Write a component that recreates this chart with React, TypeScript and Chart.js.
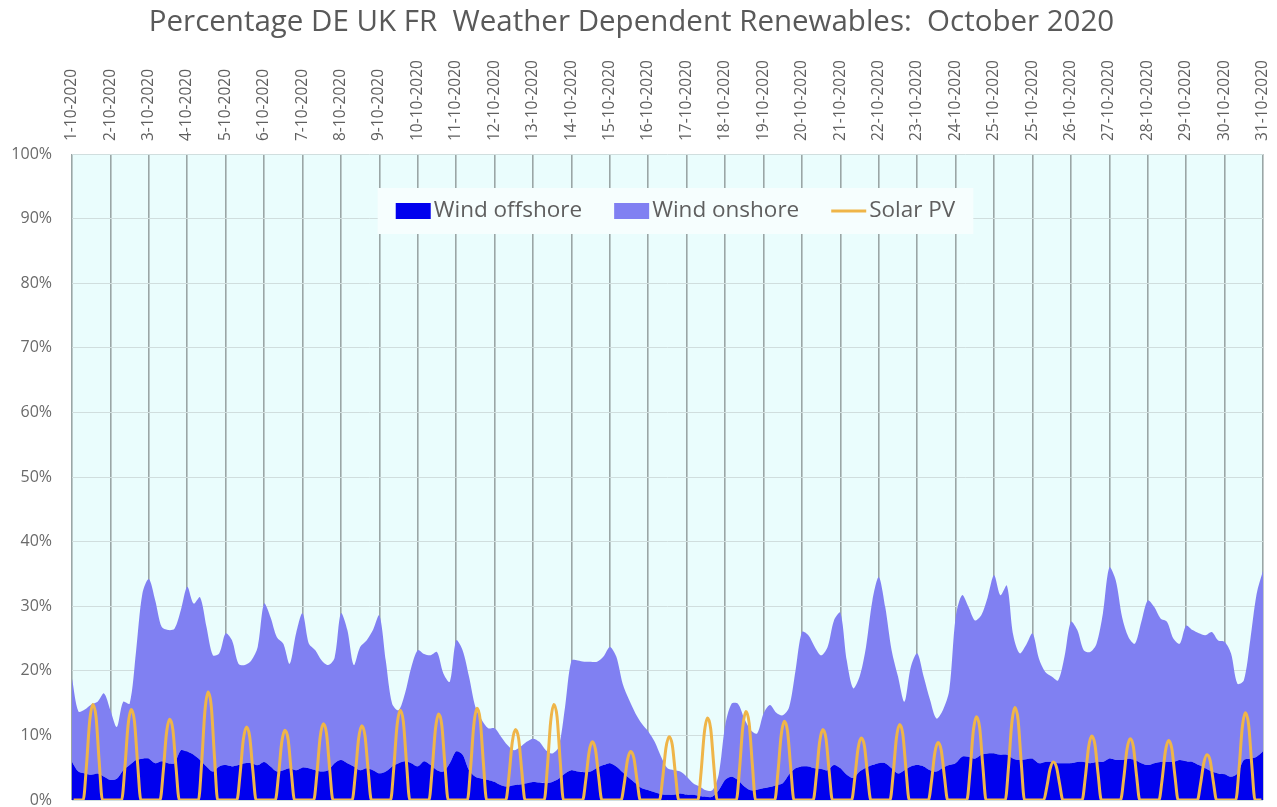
import React, { useEffect, useRef } from 'react';
import { Chart, registerables } from 'chart.js';

Chart.register(...registerables);

const TITLE = 'Percentage DE UK FR  Weather Dependent Renewables:  October 2020';

// Day boundary labels (every 24 hourly points; 25-10 repeats because of the DST change)
const dayLabels = [
  '1-10-2020', '2-10-2020', '3-10-2020', '4-10-2020', '5-10-2020', '6-10-2020', '7-10-2020', '8-10-2020',
  '9-10-2020', '10-10-2020', '11-10-2020', '12-10-2020', '13-10-2020', '14-10-2020', '15-10-2020', '16-10-2020',
  '17-10-2020', '18-10-2020', '19-10-2020', '20-10-2020', '21-10-2020', '22-10-2020', '23-10-2020', '24-10-2020',
  '25-10-2020', '25-10-2020', '26-10-2020', '27-10-2020', '28-10-2020', '29-10-2020', '30-10-2020', '31-10-2020',
];

const HOURS_PER_LABEL = 24;
const WIND_STEP_HOURS = 4;
const SOLAR_STEP_HOURS = 2;
const SOLAR_FIRST_HOUR = 1;

// Wind offshore share (%), one value every 4 hours, one row per day
const windOffshore = [
  5.9, 4.4, 4.1, 3.9, 4.1, 3.6,
  3.1, 3.3, 4.6, 5.4, 6.2, 6.4,
  6.4, 5.7, 6.0, 5.7, 5.7, 7.7,
  7.5, 7.0, 6.2, 5.2, 4.4, 5.2,
  5.4, 5.2, 5.4, 5.7, 5.7, 5.4,
  5.9, 5.2, 4.4, 4.6, 4.9, 4.6,
  5.0, 4.9, 4.6, 4.4, 4.6, 5.7,
  6.2, 5.7, 5.2, 4.6, 4.9, 4.6,
  4.1, 4.4, 5.2, 5.7, 6.0, 5.7,
  5.2, 6.0, 5.4, 4.6, 4.4, 5.7,
  7.5, 7.0, 4.6, 3.6, 3.3, 3.1,
  2.8, 2.3, 2.1, 2.3, 2.4, 2.6,
  2.8, 2.7, 2.6, 2.8, 3.3, 4.1,
  4.6, 4.4, 4.3, 4.4, 5.0, 5.4,
  5.7, 5.2, 4.3, 3.4, 2.6, 1.8,
  1.5, 1.2, 0.9, 0.8, 0.8, 1.0,
  0.8, 0.8, 0.6, 0.5, 0.5, 1.5,
  3.1, 3.6, 3.1, 2.1, 1.5, 1.6,
  1.8, 2.0, 2.3, 2.6, 4.0, 4.9,
  5.2, 5.2, 4.9, 4.8, 4.6, 5.4,
  4.9, 3.9, 3.4, 4.4, 5.0, 5.4,
  5.7, 5.7, 4.9, 4.1, 4.6, 5.2,
  5.4, 5.2, 4.6, 4.4, 5.0, 5.4,
  5.7, 6.7, 6.7, 6.4, 7.0, 7.2,
  7.2, 7.0, 7.0, 6.4, 6.2, 6.3,
  6.4, 5.7, 5.9, 5.9, 5.7, 5.7,
  5.7, 5.9, 5.9, 5.7, 5.9, 5.9,
  6.4, 6.2, 6.2, 6.4, 6.2, 5.7,
  5.4, 5.7, 5.9, 5.9, 5.9, 6.2,
  6.0, 5.9, 5.4, 4.9, 4.4, 4.1,
  4.0, 3.6, 4.1, 6.2, 6.4, 6.7,
  7.5,
];

// Wind onshore share (%), one value every 4 hours, one row per day
const windOnshore = [
  12.9, 9.3, 9.9, 10.9, 11.1, 12.9,
  10.8, 8.0, 10.6, 9.5, 16.8, 25.6,
  27.8, 25.2, 20.8, 20.6, 20.8, 21.7,
  25.5, 23.4, 25.2, 21.6, 18.0, 17.5,
  20.4, 19.5, 15.7, 15.2, 15.9, 18.3,
  24.5, 23.1, 20.8, 19.6, 16.2, 21.2,
  23.9, 19.3, 18.6, 17.2, 16.3, 16.3,
  22.7, 20.6, 15.7, 19.1, 19.8, 21.7,
  24.5, 17.2, 9.7, 8.2, 10.5, 14.9,
  18.0, 16.6, 17.0, 18.3, 15.2, 12.6,
  17.2, 16.2, 14.5, 10.8, 9.1, 8.0,
  8.3, 7.5, 6.4, 5.4, 5.8, 6.4,
  6.7, 6.3, 5.1, 4.4, 4.9, 10.3,
  17.0, 17.2, 17.1, 17.0, 16.4, 16.8,
  18.0, 17.0, 13.7, 12.1, 10.8, 10.0,
  9.1, 7.8, 5.8, 4.1, 3.8, 3.4,
  2.8, 1.8, 1.5, 1.0, 1.0, 2.5,
  8.4, 11.3, 11.8, 10.5, 9.3, 8.7,
  11.6, 12.7, 11.2, 10.5, 10.4, 15.2,
  20.8, 20.3, 18.8, 17.6, 19.1, 22.4,
  24.1, 17.7, 13.9, 14.7, 18.7, 25.5,
  28.8, 24.2, 18.3, 15.0, 10.6, 15.4,
  17.3, 13.9, 10.9, 8.2, 8.9, 11.6,
  22.6, 25.0, 23.2, 21.4, 21.6, 24.2,
  27.6, 24.7, 26.2, 19.1, 16.5, 17.7,
  19.4, 16.2, 13.9, 13.2, 12.8, 16.5,
  21.9, 20.4, 17.3, 17.2, 18.3, 23.0,
  29.6, 27.8, 22.1, 18.8, 18.0, 21.9,
  25.5, 24.2, 22.2, 21.7, 19.1, 18.0,
  21.0, 20.4, 20.4, 20.6, 21.6, 20.6,
  20.5, 19.1, 13.9, 12.3, 18.3, 25.2,
  28.0,
];

// Solar PV share (%), one value every 2 hours at 01h, 03h ... 23h, one row per day
const solarPV = [
  0, 0, 0, 0, 5.2, 12.1, 14.8, 12.9, 5.9, 0, 0, 0,
  0, 0, 0, 0, 4.9, 11.5, 14.0, 12.2, 5.6, 0, 0, 0,
  0, 0, 0, 0, 4.4, 10.3, 12.5, 10.9, 5.0, 0, 0, 0,
  0, 0, 0, 0, 5.8, 13.7, 16.7, 14.5, 6.7, 0, 0, 0,
  0, 0, 0, 0, 4.0, 9.3, 11.3, 9.8, 4.5, 0, 0, 0,
  0, 0, 0, 0, 3.8, 8.9, 10.8, 9.4, 4.3, 0, 0, 0,
  0, 0, 0, 0, 4.1, 9.7, 11.8, 10.3, 4.7, 0, 0, 0,
  0, 0, 0, 0, 4.0, 9.4, 11.5, 10.0, 4.6, 0, 0, 0,
  0, 0, 0, 0, 4.9, 11.4, 13.9, 12.1, 5.6, 0, 0, 0,
  0, 0, 0, 0, 4.7, 10.9, 13.3, 11.6, 5.3, 0, 0, 0,
  0, 0, 0, 0, 5.0, 11.6, 14.2, 12.4, 5.7, 0, 0, 0,
  0, 0, 0, 0, 3.8, 8.9, 10.9, 9.5, 4.4, 0, 0, 0,
  0, 0, 0, 0, 5.2, 12.1, 14.8, 12.9, 5.9, 0, 0, 0,
  0, 0, 0, 0, 3.2, 7.4, 9.0, 7.8, 3.6, 0, 0, 0,
  0, 0, 0, 0, 2.6, 6.2, 7.5, 6.5, 3.0, 0, 0, 0,
  0, 0, 0, 0, 3.4, 8.0, 9.8, 8.5, 3.9, 0, 0, 0,
  0, 0, 0, 0, 4.4, 10.4, 12.7, 11.0, 5.1, 0, 0, 0,
  0, 0, 0, 0, 4.8, 11.2, 13.7, 11.9, 5.5, 0, 0, 0,
  0, 0, 0, 0, 4.3, 10.0, 12.2, 10.6, 4.9, 0, 0, 0,
  0, 0, 0, 0, 3.8, 8.9, 10.9, 9.5, 4.4, 0, 0, 0,
  0, 0, 0, 0, 3.4, 7.9, 9.6, 8.4, 3.8, 0, 0, 0,
  0, 0, 0, 0, 4.1, 9.6, 11.7, 10.2, 4.7, 0, 0, 0,
  0, 0, 0, 0, 3.1, 7.3, 8.9, 7.7, 3.6, 0, 0, 0,
  0, 0, 0, 0, 4.5, 10.6, 12.9, 11.2, 5.2, 0, 0, 0,
  0, 0, 0, 0, 5.0, 11.7, 14.3, 12.4, 5.7, 0, 0, 0,
  0, 0, 0, 0, 2.1, 4.8, 5.9, 5.1, 2.4, 0, 0, 0,
  0, 0, 0, 0, 3.5, 8.1, 9.9, 8.6, 4.0, 0, 0, 0,
  0, 0, 0, 0, 3.3, 7.8, 9.5, 8.3, 3.8, 0, 0, 0,
  0, 0, 0, 0, 3.2, 7.5, 9.2, 8.0, 3.7, 0, 0, 0,
  0, 0, 0, 0, 2.5, 5.7, 7.0, 6.1, 2.8, 0, 0, 0,
  0, 0, 0, 0, 4.7, 11.1, 13.5, 11.7, 5.4, 0, 0, 0,
];

const FONT = '"Open Sans", "DejaVu Sans", sans-serif';
const TEXT_COLOR = '#5f5f5f';

const plotBackground = {
  id: 'plotBackground',
  beforeDraw(chart: any) {
    const { ctx, chartArea, width, height } = chart;
    ctx.save();
    ctx.fillStyle = '#ffffff';
    ctx.fillRect(0, 0, width, height);
    ctx.fillStyle = '#EAFDFD';
    ctx.fillRect(chartArea.left, chartArea.top, chartArea.right - chartArea.left, chartArea.bottom - chartArea.top);
    ctx.restore();
  },
};

const insideLegend = {
  id: 'insideLegend',
  beforeDatasetsDraw(chart: any) {
    const { ctx, chartArea } = chart;
    const swatchW = 35;
    const swatchH = 16;
    const gapText = 3;
    const gapItem = 32;
    const padX = 18;
    const boxH = 46;
    ctx.save();
    ctx.font = `22.5px ${FONT}`;
    const items = chart.data.datasets.map((ds: any) => {
      const isLine = ds.fill === false;
      return {
        label: ds.label as string,
        color: isLine ? ds.borderColor : ds.backgroundColor,
        isLine,
        w: swatchW + gapText + ctx.measureText(ds.label).width,
      };
    });
    const total = items.reduce((s: number, it: any) => s + it.w, 0) + gapItem * (items.length - 1);
    const cx = (chartArea.left + chartArea.right) / 2 + 8;
    const top = chartArea.top + 34;
    const cy = top + boxH / 2;
    ctx.fillStyle = '#F6FEFE';
    ctx.fillRect(cx - total / 2 - padX, top, total + padX * 2, boxH);
    let x = cx - total / 2;
    ctx.textBaseline = 'middle';
    ctx.textAlign = 'left';
    for (const it of items) {
      if (it.isLine) {
        ctx.strokeStyle = it.color;
        ctx.lineWidth = 3;
        ctx.beginPath();
        ctx.moveTo(x, cy);
        ctx.lineTo(x + swatchW, cy);
        ctx.stroke();
      } else {
        ctx.fillStyle = it.color;
        ctx.fillRect(x, cy - swatchH / 2, swatchW, swatchH);
      }
      ctx.fillStyle = TEXT_COLOR;
      ctx.fillText(it.label, x + swatchW + gapText, cy);
      x += it.w + gapItem;
    }
    ctx.restore();
  },
};

export default function App() {
  const canvasRef = useRef<HTMLCanvasElement | null>(null);

  useEffect(() => {
    const canvas = canvasRef.current;
    if (!canvas) return;
    const lastHour = (dayLabels.length - 1) * HOURS_PER_LABEL;
    const chart = new Chart(canvas, {
      type: 'line',
      data: {
        datasets: [
          {
            label: 'Wind offshore',
            data: windOffshore.map((y, i) => ({ x: i * WIND_STEP_HOURS, y })),
            backgroundColor: '#0000EE',
            borderColor: '#0000EE',
            borderWidth: 0,
            pointRadius: 0,
            fill: 'origin',
            tension: 0.3,
            stack: 'wind',
            order: 1,
          },
          {
            label: 'Wind onshore',
            data: windOnshore.map((y, i) => ({ x: i * WIND_STEP_HOURS, y })),
            backgroundColor: '#8080F2',
            borderColor: '#8080F2',
            borderWidth: 0,
            pointRadius: 0,
            fill: '-1',
            tension: 0.3,
            stack: 'wind',
            order: 2,
          },
          {
            label: 'Solar PV',
            data: solarPV.map((y, i) => ({ x: SOLAR_FIRST_HOUR + i * SOLAR_STEP_HOURS, y })),
            borderColor: '#EFB548',
            backgroundColor: '#EFB548',
            borderWidth: 3,
            pointRadius: 0,
            fill: false,
            cubicInterpolationMode: 'monotone',
            stack: 'solar',
            order: 0,
          },
        ] as any,
      },
      options: {
        animation: false,
        responsive: false,
        devicePixelRatio: 1,
        events: [],
        layout: { padding: { left: 0, right: 14, top: 0, bottom: 7 } },
        plugins: {
          legend: { display: false },
          tooltip: { enabled: false },
          title: {
            display: true,
            text: TITLE,
            color: '#595959',
            font: { family: FONT, size: 29.5, weight: 'normal' },
            padding: { top: 5, bottom: 7 },
          },
        },
        scales: {
          x: {
            type: 'linear',
            position: 'top',
            min: 0,
            max: lastHour,
            afterBuildTicks: (scale: any) => {
              scale.ticks = dayLabels.map((_, i) => ({ value: i * HOURS_PER_LABEL }));
            },
            afterFit: (scale: any) => {
              scale.height = 106.6;
            },
            ticks: {
              autoSkip: false,
              minRotation: 90,
              maxRotation: 90,
              padding: 13,
              labelOffset: 18.3,
              color: TEXT_COLOR,
              font: { family: FONT, size: 15.5 },
              callback: (_v: any, index: number) => dayLabels[index],
            },
            grid: { color: '#9AA6A6', lineWidth: 1.6, drawTicks: false },
            border: { display: false },
          },
          y: {
            stacked: true,
            min: 0,
            max: 100,
            afterFit: (scale: any) => {
              scale.width = 72;
            },
            ticks: {
              stepSize: 10,
              padding: 0,
              color: '#6a6a6a',
              font: { family: FONT, size: 16, lineHeight: 0.8 },
              callback: (v: any) => `${v}%`,
            },
            grid: {
              color: '#D0DEDE',
              lineWidth: 1,
              drawTicks: true,
              tickLength: 20,
              tickColor: 'rgba(0,0,0,0)',
            },
            border: { display: false },
          },
        },
      } as any,
      plugins: [plotBackground, insideLegend],
    });
    return () => chart.destroy();
  }, []);

  return (
    <div style={{ position: 'fixed', left: 0, top: 0, width: 1277, height: 807, background: '#fff' }}>
      <canvas ref={canvasRef} width={1277} height={807} style={{ width: 1277, height: 807, display: 'block' }} />
    </div>
  );
}
